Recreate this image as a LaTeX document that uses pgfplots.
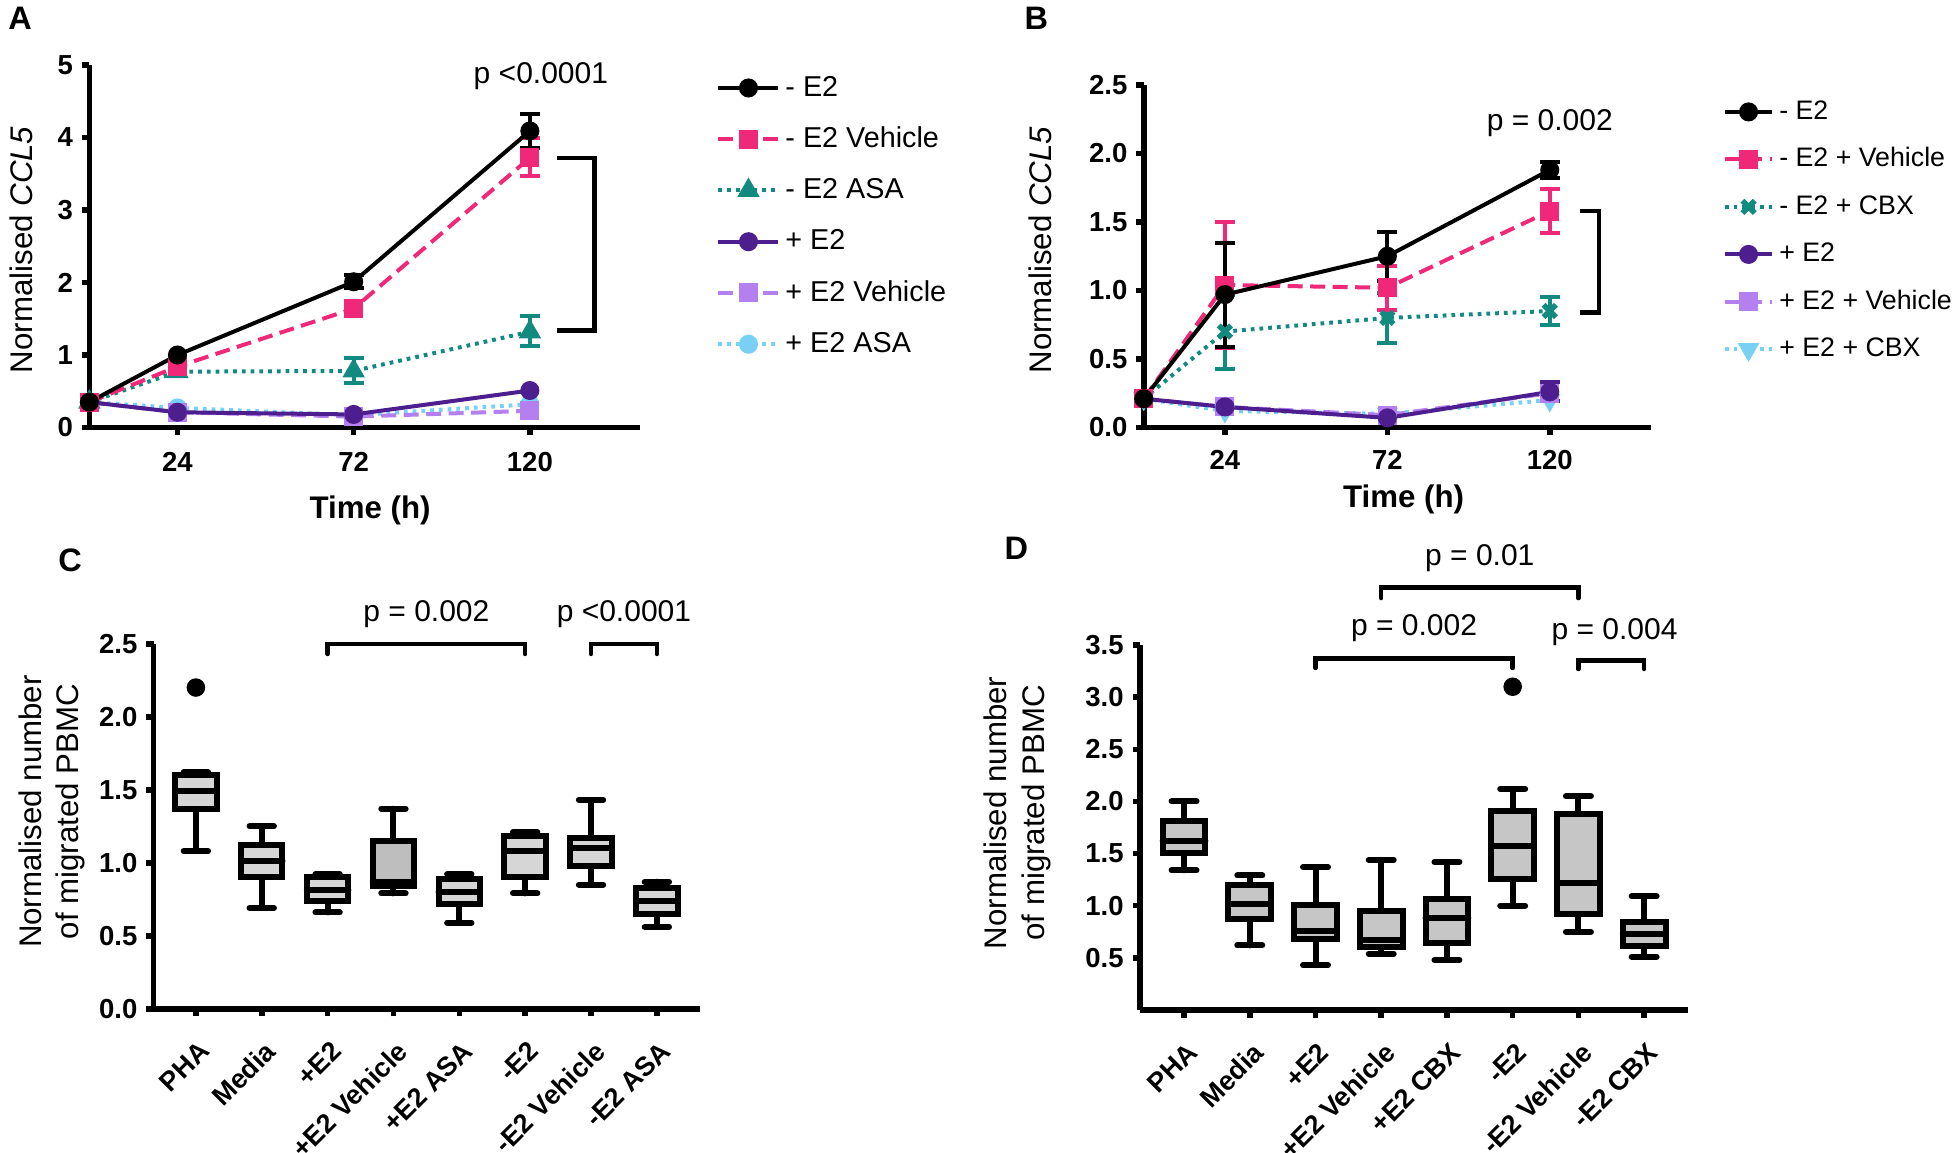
\documentclass[border=0pt]{standalone}
\usepackage{pgfplots}
\pgfplotsset{compat=1.18}
\usepgfplotslibrary{statistics}
\usepackage{fontspec}
\setmainfont{Liberation Sans}

\definecolor{cPink}{RGB}{240,40,120}
\definecolor{cTeal}{RGB}{18,138,128}
\definecolor{cPurple}{RGB}{76,30,142}
\definecolor{cLilac}{RGB}{180,128,240}
\definecolor{cSky}{RGB}{120,208,245}
\definecolor{boxC}{RGB}{214,214,214}
\definecolor{boxCd}{RGB}{190,190,190}
\definecolor{boxD}{RGB}{198,198,198}

\pgfplotsset{
  gp/.style={
    scale only axis, clip=false, anchor=south west,
    axis x line*=bottom, axis y line*=left,
    axis line style={line width=2.2pt, -},
    tick style={line width=2.2pt, black},
    tick align=outside, major tick length=3pt,
    minor tick num=0,
    ticklabel style={font=\bfseries\fontsize{11}{11}\selectfont},
    /pgf/number format/assume math mode=true,
    label style={font=\fontsize{12.5}{15}\selectfont},
    xlabel style={font=\bfseries\fontsize{12.5}{15}\selectfont},
  },
  ln/.style={line width=1.6pt, mark options={solid}, mark size=3pt},
  eb/.style={forget plot, draw=none, error bars/.cd, y dir=both, y explicit,
    error bar style={draw=#1, solid, line width=1.6pt},
    error mark options={draw=#1, solid, line width=1.6pt, mark size=4pt, rotate=90}},
  bx/.style={draw=black, line width=2.4pt, line cap=round, boxplot/draw direction=y},
  cat/.style={xticklabel style={rotate=45, anchor=north east, inner sep=1pt, yshift=-6pt, xshift=-5pt, font=\bfseries\fontsize{10.8}{12}\selectfont}},
}
\newcommand{\pfont}{\fontsize{12}{14}\selectfont}

\begin{document}
\begin{tikzpicture}
\path[use as bounding box] (0,0) rectangle (784pt,461pt);

\node[font=\bfseries\fontsize{13}{13}\selectfont] at (8pt,453.5pt) {A};
\node[font=\bfseries\fontsize{13}{13}\selectfont] at (414.5pt,453.5pt) {B};
\node[font=\bfseries\fontsize{13}{13}\selectfont] at (28pt,237pt) {C};
\node[font=\bfseries\fontsize{13}{13}\selectfont] at (406.5pt,241.5pt) {D};

% ---------------- Panel A ----------------
\begin{axis}[gp, at={(35.75pt,290pt)}, width=220.25pt, height=145pt,
  xmin=0, xmax=150, ymin=0, ymax=5,
  xtick={24,72,120}, ytick={0,1,2,3,4,5},
  xticklabel style={yshift=-3.5pt},
  xlabel={Time (h)}, ylabel={Normalised \textit{CCL5}},
  xlabel style={at={(axis description cs:0.51,-0.228)}, anchor=center},
  ylabel style={at={(axis description cs:-0.124,0.49)}, anchor=center},
  reverse legend, legend cell align=left,
  legend image code/.code={\draw[mark repeat=2,mark phase=2] plot coordinates {(0pt,0pt) (12pt,0pt) (24pt,0pt)};},
  legend style={at={(axis description cs:1.138,0.988)}, anchor=north west, draw=none, fill=none,
    font=\fontsize{11.5}{13}\selectfont, row sep=6pt, inner sep=0pt,
    nodes={inner sep=2pt, text height=8.5pt, text depth=2pt}},
]
\addplot[ln, cSky, dash pattern=on 1.5pt off 2pt, mark=*] coordinates {(0,0.35) (24,0.27) (72,0.17) (120,0.32)};
\addlegendentry{+ E2 ASA}
\addplot[ln, cLilac, dash pattern=on 6pt off 3pt, mark=square*] coordinates {(0,0.35) (24,0.21) (72,0.15) (120,0.23)};
\addlegendentry{+ E2 Vehicle}
\addplot[ln, cPurple, mark=*] coordinates {(0,0.35) (24,0.21) (72,0.18) (120,0.51)};
\addlegendentry{+ E2}
\addplot[eb=cTeal] coordinates {(72,0.78) += (0,0.18) -= (0,0.17) (120,1.32) += (0,0.22) -= (0,0.2)};
\addplot[ln, cTeal, dash pattern=on 1.5pt off 2pt, mark=triangle*, mark size=3.6pt] coordinates {(0,0.35) (24,0.77) (72,0.78) (120,1.32)};
\addlegendentry{- E2 ASA}
\addplot[eb=cPink] coordinates {(120,3.72) += (0,0.27) -= (0,0.25)};
\addplot[ln, cPink, dash pattern=on 6pt off 3pt, mark=square*] coordinates {(0,0.35) (24,0.84) (72,1.64) (120,3.72)};
\addlegendentry{- E2 Vehicle}
\addplot[eb=black] coordinates {(72,2.01) +- (0,0.09) (120,4.09) +- (0,0.24)};
\addplot[ln, black, mark=*] coordinates {(0,0.35) (24,1.0) (72,2.01) (120,4.09)};
\addlegendentry{- E2}
\draw[line width=1.8pt] (axis cs:127.5,3.72) -- (axis cs:137.6,3.72) -- (axis cs:137.6,1.34) -- (axis cs:127.5,1.34);
\node[font=\pfont] at (axis cs:123,4.84) {p <0.0001};
\end{axis}

% ---------------- Panel B ----------------
\begin{axis}[gp, at={(457.5pt,290pt)}, width=203pt, height=137pt,
  xmin=0, xmax=150, ymin=0, ymax=2.5,
  xtick={24,72,120}, ytick={0,0.5,1,1.5,2,2.5}, yticklabels={0.0,0.5,1.0,1.5,2.0,2.5},
  xticklabel style={yshift=-2.5pt},
  xlabel={Time (h)}, ylabel={Normalised \textit{CCL5}},
  xlabel style={at={(axis description cs:0.512,-0.21)}, anchor=center},
  ylabel style={at={(axis description cs:-0.204,0.518)}, anchor=center},
  reverse legend, legend cell align=left,
  legend image code/.code={\draw[mark repeat=2,mark phase=2] plot coordinates {(0pt,0pt) (9.5pt,0pt) (19pt,0pt)};},
  legend style={at={(axis description cs:1.140,0.974)}, anchor=north west, draw=none, fill=none,
    font=\fontsize{10.7}{12}\selectfont, row sep=5pt, inner sep=0pt,
    nodes={inner sep=2pt, text height=8pt, text depth=2pt}},
]
\addplot[ln, cSky, dash pattern=on 1.5pt off 2pt, mark=triangle*, mark options={solid, rotate=180}, mark size=3.4pt] coordinates {(0,0.21) (24,0.12) (72,0.10) (120,0.20)};
\addlegendentry{+ E2 + CBX}
\addplot[ln, cLilac, dash pattern=on 6pt off 3pt, mark=square*] coordinates {(0,0.21) (24,0.15) (72,0.09) (120,0.25)};
\addlegendentry{+ E2 + Vehicle}
\addplot[eb=cPurple] coordinates {(120,0.26) +- (0,0.07)};
\addplot[ln, cPurple, mark=*] coordinates {(0,0.21) (24,0.15) (72,0.07) (120,0.26)};
\addlegendentry{+ E2}
\addplot[eb=cTeal] coordinates {(24,0.70) +- (0,0.27) (72,0.80) +- (0,0.18) (120,0.85) +- (0,0.10)};
\addplot[ln, cTeal, dash pattern=on 1.5pt off 2pt, mark=x, mark size=3.5pt, mark options={solid, line width=2.2pt}] coordinates {(0,0.21) (24,0.70) (72,0.80) (120,0.85)};
\addlegendentry{- E2 + CBX}
\addplot[eb=cPink] coordinates {(24,1.04) +- (0,0.46) (72,1.02) +- (0,0.16) (120,1.58) +- (0,0.16)};
\addplot[ln, cPink, dash pattern=on 6pt off 3pt, mark=square*] coordinates {(0,0.21) (24,1.04) (72,1.02) (120,1.58)};
\addlegendentry{- E2 + Vehicle}
\addplot[eb=black] coordinates {(24,0.97) +- (0,0.38) (72,1.25) +- (0,0.18) (120,1.88) +- (0,0.06)};
\addplot[ln, black, mark=*] coordinates {(0,0.21) (24,0.97) (72,1.25) (120,1.88)};
\addlegendentry{- E2}
\draw[line width=1.8pt] (axis cs:129,1.58) -- (axis cs:134.5,1.58) -- (axis cs:134.5,0.84) -- (axis cs:129,0.84);
\node[font=\pfont] at (axis cs:120,2.22) {p = 0.002};
\end{axis}

% ---------------- Panel C ----------------
\begin{axis}[gp, cat, at={(61.5pt,57.5pt)}, width=218.5pt, height=146pt,
  xmin=-0.64, xmax=7.655, ymin=0, ymax=2.5,
  xtick={0,1,2,3,4,5,6,7},
  xticklabels={PHA,Media,+E2,+E2 Vehicle,+E2 ASA,-E2,-E2 Vehicle,-E2 ASA},
  ytick={0,0.5,1,1.5,2,2.5}, yticklabels={0.0,0.5,1.0,1.5,2.0,2.5},
  ylabel={Normalised number\\of migrated PBMC},
  ylabel style={align=center, at={(axis description cs:-0.186,0.54)}, anchor=center},
]
\addplot[bx, fill=boxC, boxplot prepared={draw position=0, lower whisker=1.08, lower quartile=1.37, median=1.49, upper quartile=1.60, upper whisker=1.62, box extend=0.63, whisker extend=0.37}] coordinates {};
\addplot[bx, fill=boxC, boxplot prepared={draw position=1, lower whisker=0.69, lower quartile=0.90, median=1.01, upper quartile=1.12, upper whisker=1.25, box extend=0.63, whisker extend=0.37}] coordinates {};
\addplot[bx, fill=boxC, boxplot prepared={draw position=2, lower whisker=0.66, lower quartile=0.74, median=0.81, upper quartile=0.90, upper whisker=0.92, box extend=0.63, whisker extend=0.37}] coordinates {};
\addplot[bx, fill=boxCd, boxplot prepared={draw position=3, lower whisker=0.79, lower quartile=0.84, median=0.87, upper quartile=1.15, upper whisker=1.37, box extend=0.63, whisker extend=0.37}] coordinates {};
\addplot[bx, fill=boxC, boxplot prepared={draw position=4, lower whisker=0.59, lower quartile=0.72, median=0.80, upper quartile=0.89, upper whisker=0.92, box extend=0.63, whisker extend=0.37}] coordinates {};
\addplot[bx, fill=boxC, boxplot prepared={draw position=5, lower whisker=0.79, lower quartile=0.90, median=1.08, upper quartile=1.18, upper whisker=1.21, box extend=0.63, whisker extend=0.37}] coordinates {};
\addplot[bx, fill=boxC, boxplot prepared={draw position=6, lower whisker=0.85, lower quartile=0.98, median=1.10, upper quartile=1.17, upper whisker=1.43, box extend=0.63, whisker extend=0.37}] coordinates {};
\addplot[bx, fill=boxC, boxplot prepared={draw position=7, lower whisker=0.56, lower quartile=0.65, median=0.74, upper quartile=0.83, upper whisker=0.87, box extend=0.63, whisker extend=0.37}] coordinates {};
\addplot[only marks, mark=*, mark size=3.5pt, black] coordinates {(0,2.2)};
\draw[line width=1.8pt, line cap=round] (axis cs:2,2.43) -- (axis cs:2,2.5) -- (axis cs:5,2.5) -- (axis cs:5,2.43);
\draw[line width=1.8pt, line cap=round] (axis cs:6,2.43) -- (axis cs:6,2.5) -- (axis cs:7,2.5) -- (axis cs:7,2.43);
\node[font=\pfont] at (axis cs:3.5,2.7) {p = 0.002};
\node[font=\pfont] at (axis cs:6.5,2.7) {p <0.0001};
\end{axis}

% ---------------- Panel D ----------------
\begin{axis}[gp, cat, at={(456pt,57pt)}, width=219pt, height=146pt,
  xmin=-0.67, xmax=7.66, ymin=0, ymax=3.5,
  xtick={0,1,2,3,4,5,6,7},
  xticklabels={PHA,Media,+E2,+E2 Vehicle,+E2 CBX,-E2,-E2 Vehicle,-E2 CBX},
  ytick={0.5,1,1.5,2,2.5,3,3.5}, yticklabels={0.5,1.0,1.5,2.0,2.5,3.0,3.5},
  ylabel={Normalised number\\of migrated PBMC},
  ylabel style={align=center, at={(axis description cs:-0.224,0.54)}, anchor=center},
]
\addplot[bx, fill=boxD, boxplot prepared={draw position=0, lower whisker=1.34, lower quartile=1.51, median=1.62, upper quartile=1.81, upper whisker=2.0, box extend=0.65, whisker extend=0.38}] coordinates {};
\addplot[bx, fill=boxD, boxplot prepared={draw position=1, lower whisker=0.62, lower quartile=0.87, median=1.02, upper quartile=1.20, upper whisker=1.29, box extend=0.65, whisker extend=0.38}] coordinates {};
\addplot[bx, fill=boxD, boxplot prepared={draw position=2, lower whisker=0.43, lower quartile=0.68, median=0.76, upper quartile=1.01, upper whisker=1.37, box extend=0.65, whisker extend=0.38}] coordinates {};
\addplot[bx, fill=boxD, boxplot prepared={draw position=3, lower whisker=0.54, lower quartile=0.60, median=0.67, upper quartile=0.95, upper whisker=1.44, box extend=0.65, whisker extend=0.38}] coordinates {};
\addplot[bx, fill=boxD, boxplot prepared={draw position=4, lower whisker=0.48, lower quartile=0.64, median=0.88, upper quartile=1.06, upper whisker=1.42, box extend=0.65, whisker extend=0.38}] coordinates {};
\addplot[bx, fill=boxD, boxplot prepared={draw position=5, lower whisker=1.00, lower quartile=1.26, median=1.57, upper quartile=1.91, upper whisker=2.12, box extend=0.65, whisker extend=0.38}] coordinates {};
\addplot[bx, fill=boxD, boxplot prepared={draw position=6, lower whisker=0.75, lower quartile=0.92, median=1.22, upper quartile=1.88, upper whisker=2.05, box extend=0.65, whisker extend=0.38}] coordinates {};
\addplot[bx, fill=boxD, boxplot prepared={draw position=7, lower whisker=0.51, lower quartile=0.61, median=0.73, upper quartile=0.84, upper whisker=1.09, box extend=0.65, whisker extend=0.38}] coordinates {};
\addplot[only marks, mark=*, mark size=3.5pt, black] coordinates {(5,3.1)};
\draw[line width=1.8pt, line cap=round] (axis cs:3,3.95) -- (axis cs:3,4.05) -- (axis cs:6,4.05) -- (axis cs:6,3.95);
\draw[line width=1.8pt, line cap=round] (axis cs:2,3.28) -- (axis cs:2,3.37) -- (axis cs:5,3.37) -- (axis cs:5,3.28);
\draw[line width=1.8pt, line cap=round] (axis cs:6,3.27) -- (axis cs:6,3.35) -- (axis cs:7,3.35) -- (axis cs:7,3.27);
\node[font=\pfont] at (axis cs:4.5,4.33) {p = 0.01};
\node[font=\pfont] at (axis cs:3.5,3.66) {p = 0.002};
\node[font=\pfont] at (axis cs:6.55,3.62) {p = 0.004};
\end{axis}
\end{tikzpicture}
\end{document}
